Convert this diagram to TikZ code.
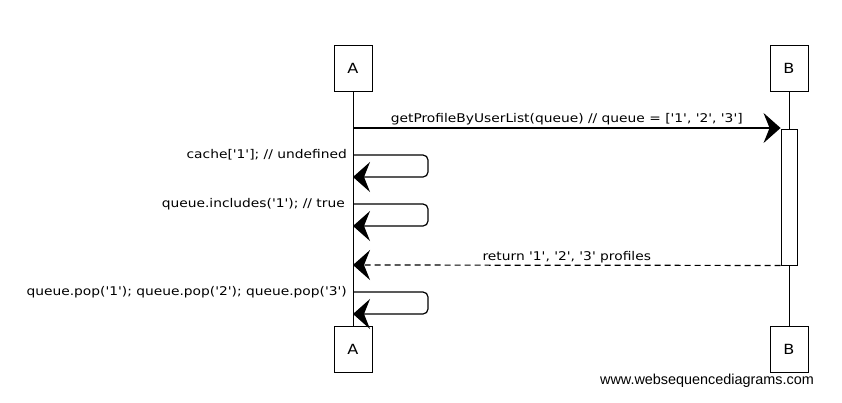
\documentclass[tikz,border=0pt]{standalone}
\usepackage{fontspec}
\newfontfamily\hand{DejaVu Sans}[Ligatures=TeXOff, FakeStretch=1.15]
\newfontfamily\wsd{Liberation Sans}
\usetikzlibrary{arrows.meta,positioning}

\begin{document}
\begin{tikzpicture}[
        x=1pt, y=-1pt,
        actor/.style={
            draw=black,
            fill=white,
            line width=0.9pt,
            minimum width=38pt,
            minimum height=46pt,
            inner sep=0pt,
            font=\hand\fontsize{14}{16}\selectfont
        },
        msg/.style={font=\hand\fontsize{12}{14}\selectfont, inner sep=2pt},
        call/.style={line width=1.2pt, -{Stealth[length=17pt,width=30pt,inset=6pt]}},
        reply/.style={call, dash pattern=on 6pt off 4pt}
    ]

    \useasboundingbox (0,0) rectangle (842,402);

    % Participantes
    \node[actor] (aTop) at (353,68)  {A};
    \node[actor] (bTop) at (789,68)  {B};
    \node[actor] (aBot) at (353,349) {A};
    \node[actor] (bBot) at (789,349) {B};

    % Líneas de vida
    \draw[line width=0.9pt] (aTop) -- (aBot);
    \draw[line width=0.9pt] (bTop) -- (bBot);
    \node[draw, fill=white, line width=0.9pt, minimum width=16pt, minimum height=136pt, inner sep=0pt] (act) at (789,197) {};

    % Puntos sobre A
    \coordinate (m1) at (353,128);
    \coordinate (s1) at (353,155);
    \coordinate (s2) at (353,204);
    \coordinate (r1) at (353,265);
    \coordinate (s3) at (353,292);

    % Mensajes
    \draw[call] (m1) -- node[msg, above] {getProfileByUserList(queue) // queue = ['1', '2', '3']} (m1 -| act.west);
    \draw[reply] (act.south west) -- node[msg, above] {return '1', '2', '3' profiles} (r1);

    \draw[call, rounded corners=5pt] (s1) -- ++(75,0) -- ++(0,22) -- ++(-75,0);
    \node[msg, left=4pt of s1] (t1) {cache['1']; // undefined};

    \draw[call, rounded corners=5pt] (s2) -- ++(75,0) -- ++(0,22) -- ++(-75,0);
    \node[msg, left=6pt of s2] (t2) {queue.includes('1'); // true};

    \draw[call, rounded corners=5pt] (s3) -- ++(75,0) -- ++(0,22) -- ++(-75,0);
    \node[msg, left=4pt of s3] (t3) {queue.pop('1'); queue.pop('2'); queue.pop('3')};

    \node[font=\wsd\fontsize{14.4}{16}\selectfont] (wm) at (707,381) {www.websequencediagrams.com};

\end{tikzpicture}
\end{document}
